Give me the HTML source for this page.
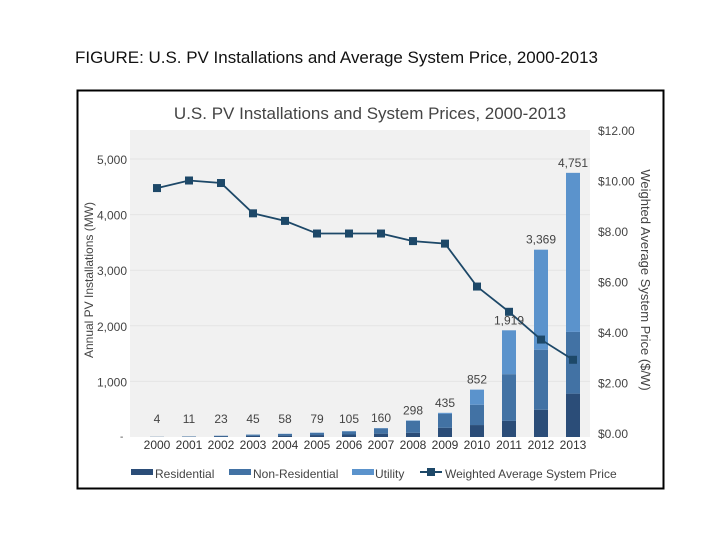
<!DOCTYPE html>
<html><head><meta charset="utf-8"><style>
body{margin:0;background:#fff;width:720px;height:540px;overflow:hidden}
svg text{font-family:"Liberation Sans",sans-serif}
</style></head><body>
<svg id="c" width="720" height="540" xmlns="http://www.w3.org/2000/svg">
<text x="75" y="63" font-size="17" fill="#111" textLength="523" lengthAdjust="spacingAndGlyphs">FIGURE: U.S. PV Installations and Average System Price, 2000-2013</text>
<rect x="77.5" y="90.5" width="586" height="398" fill="#fff" stroke="#000" stroke-width="2"/>
<rect x="130" y="130" width="460" height="307" fill="#f1f1f1"/>
<text x="370" y="119" font-size="17" fill="#444" text-anchor="middle">U.S. PV Installations and System Prices, 2000-2013</text>
<g id="grid"></g><g id="bars"></g><g id="line"></g><g id="axes"></g>
<text transform="translate(93,280) rotate(-90)" font-size="12" fill="#444" text-anchor="middle">Annual  PV Installations (MW)</text>
<text transform="translate(641,280) rotate(90)" font-size="13" fill="#444" text-anchor="middle">Weighted Average System Price ($/W)</text>
<g font-size="12" fill="#444">
<rect x="131" y="469" width="22" height="6" fill="#2b4d78"/>
<text x="155" y="478">Residential</text>
<rect x="229" y="469" width="22" height="6" fill="#4272a4"/>
<text x="253" y="478">Non-Residential</text>
<rect x="352" y="469" width="22" height="6" fill="#5b93cc"/>
<text x="375" y="478">Utility</text>
<line x1="420" y1="472" x2="442" y2="472" stroke="#1d4868" stroke-width="2"/>
<rect x="427" y="468" width="8" height="8" fill="#1d4868"/>
<text x="445" y="478">Weighted Average System Price</text>
</g>
</svg>
<script>
const years=["2000","2001","2002","2003","2004","2005","2006","2007","2008","2009","2010","2011","2012","2013"];
const residential=[2,5,10,20,25,35,45,60,75,165,215,290,490,780];
const nonResidential=[2,5,12,23,30,40,55,95,215,250,365,840,1080,1110];
const utility=[0,1,1,2,3,4,5,5,8,20,272,789,1799,2861];
const totals=[4,11,23,45,58,79,105,160,298,435,852,1919,3369,4751];
const prices=[9.7,10.0,9.9,8.7,8.4,7.9,7.9,7.9,7.6,7.5,5.8,4.8,3.7,2.9];
const leftTicks=[1000,2000,3000,4000,5000];
const rightTicks=[0,2,4,6,8,10,12];
const NS="http://www.w3.org/2000/svg";
const xS=i=>157+i*32;
const yL=v=>437-v*0.0556;
const yR=v=>433-v*25.25;
function mk(p,t,a){const e=document.createElementNS(NS,t);for(const k in a)e.setAttribute(k,a[k]);document.getElementById(p).appendChild(e);return e;}
leftTicks.forEach(v=>{
 const g=mk('grid','line',{x1:130,x2:590,y1:yL(v),y2:yL(v),stroke:'#e4e4e4'});
 
 
 const t=mk('axes','text',{x:127,y:yL(v)+5,'font-size':12,fill:'#444','text-anchor':'end'});
 t.textContent=v.toLocaleString('en-US');
 
 
});
const dash=mk('axes','text',{x:120,y:440,'font-size':10,fill:'#444'});dash.textContent='-';


rightTicks.forEach(v=>{
 const t=mk('axes','text',{x:598,y:yR(v)+5,'font-size':12,fill:'#444'});
 t.textContent='$'+v.toFixed(2);
 
 
});
years.forEach((y,i)=>{
 const x=xS(i),w=14;let base=0;
 [[residential[i],'#2b4d78','residential'],[nonResidential[i],'#4272a4','nonresidential'],[utility[i],'#5b93cc','utility']].forEach(([v,c,n])=>{
  const r=mk('bars','rect',{x:x-w/2,y:yL(base+v),width:w,height:yL(base)-yL(base+v),fill:c});
  
  
  base+=v;
 });
 const lb=mk('axes','text',{x:x,y:Math.min(yL(totals[i])-6,423),'font-size':12,fill:'#444','text-anchor':'middle'});
 lb.textContent=totals[i].toLocaleString('en-US');
 
 
 const xl=mk('axes','text',{x:x,y:449,'font-size':12,fill:'#333','text-anchor':'middle'});
 xl.textContent=y;
 
 
});
const pl=mk('line','polyline',{points:prices.map((p,i)=>xS(i)+','+yR(p)).join(' '),fill:'none',stroke:'#1d4868','stroke-width':1.8});


prices.forEach((p,i)=>{
 const m=mk('line','rect',{x:xS(i)-4,y:yR(p)-4,width:8,height:8,fill:'#1d4868'});
 
 
});
</script>
</body></html>
